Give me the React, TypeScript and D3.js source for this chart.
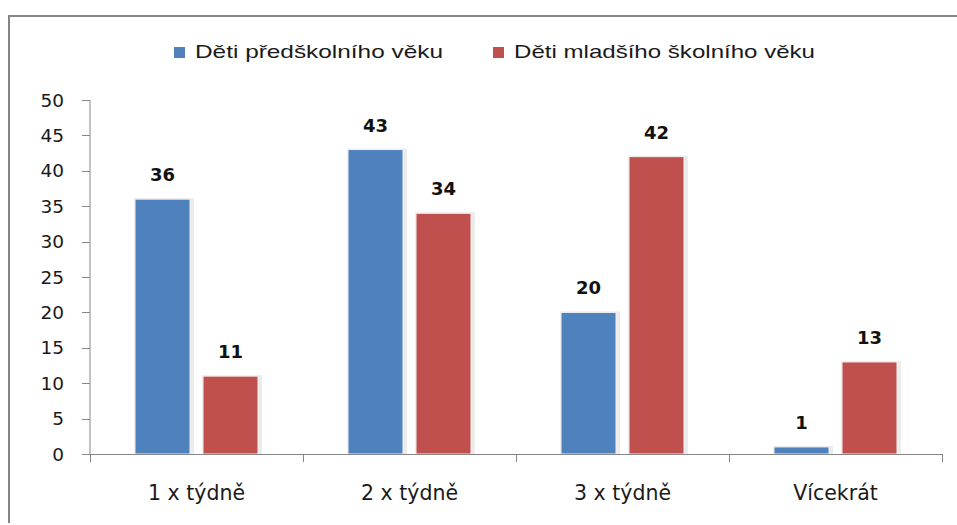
import React, { useEffect, useRef } from "react";
import * as d3 from "d3";

// data
const categories = ["1 x týdně", "2 x týdně", "3 x týdně", "Vícekrát"];
const seriesNames = ["Děti předškolního věku", "Děti mladšího školního věku"];
const preschool = [36, 43, 20, 1];
const school = [11, 34, 42, 13];
const yTicks = [0, 5, 10, 15, 20, 25, 30, 35, 40, 45, 50];

const colors = ["#4F81BD", "#C0504D"];
const legendWidths = [248, 301];

const App = () => {
  const svgRef = useRef<SVGSVGElement>(null);

  useEffect(() => {
    const svg = d3.select(svgRef.current);
    svg.selectAll("*").remove();

    const width = 957;
    const height = 525;
    const plot = { left: 90, right: 942, top: 100, bottom: 454 };

    // outer chart frame (top + left edges visible)
    svg
      .append("path")
      .attr("d", `M9,${height - 2} L9,16 L${width},16`)
      .attr("fill", "none")
      .attr("stroke", "#868686")
      .attr("stroke-width", 2);

    const x = d3
      .scaleBand<string>()
      .domain(categories)
      .range([plot.left, plot.right])
      .padding(0);

    const x1 = d3
      .scaleBand<number>()
      .domain([0, 1])
      .range([0, x.bandwidth()])
      .paddingInner(0.191)
      .paddingOuter(0.662);

    const y = d3.scaleLinear().domain([0, 50]).range([plot.bottom, plot.top]);

    // y axis
    const yAxis = svg.append("g");
    yAxis
      .append("line")
      .attr("x1", plot.left)
      .attr("x2", plot.left)
      .attr("y1", y(50))
      .attr("y2", y(0))
      .attr("stroke", "#868686");
    yAxis
      .selectAll(".ytick")
      .data(yTicks)
      .enter()
      .append("line")
      .attr("x1", plot.left - 8)
      .attr("x2", plot.left)
      .attr("y1", (d) => Math.round(y(d)) + 0.5)
      .attr("y2", (d) => Math.round(y(d)) + 0.5)
      .attr("stroke", "#868686");
    yAxis
      .selectAll(".ylabel")
      .data(yTicks)
      .enter()
      .append("text")
      .attr("x", 64)
      .attr("y", (d) => y(d))
      .attr("dy", "0.36em")
      .attr("text-anchor", "end")
      .attr("font-family", "DejaVu Sans, sans-serif")
      .attr("font-size", 18.5)
      .attr("fill", "#1a1a1a")
      .text((d) => d);

    // bars
    const groups = svg
      .selectAll(".grp")
      .data(categories)
      .enter()
      .append("g")
      .attr("transform", (d) => `translate(${x(d)},0)`);

    const barData = (i: number) =>
      [preschool[i], school[i]].map((v, s) => ({ v, s }));

    groups.each(function (_, i) {
      const g = d3.select(this);
      const bars = barData(i);
      // soft shadow
      g.selectAll(".shadow")
        .data(bars)
        .enter()
        .append("rect")
        .attr("x", (d) => (x1(d.s) as number) - 1)
        .attr("y", (d) => y(d.v) - 1)
        .attr("width", x1.bandwidth() + 5)
        .attr("height", (d) => y(0) - y(d.v) + 1)
        .attr("fill", "#000")
        .attr("opacity", 0.08);
      g.selectAll(".bar")
        .data(bars)
        .enter()
        .append("rect")
        .attr("x", (d) => x1(d.s) as number)
        .attr("y", (d) => y(d.v))
        .attr("width", x1.bandwidth())
        .attr("height", (d) => y(0) - y(d.v))
        .attr("fill", (d) => colors[d.s])
        .attr("stroke", "#f2f2f2")
        .attr("stroke-width", 1);
      g.selectAll(".val")
        .data(bars)
        .enter()
        .append("text")
        .attr("x", (d) => (x1(d.s) as number) + x1.bandwidth() / 2)
        .attr("y", (d) => y(d.v) - 18)
        .attr("text-anchor", "middle")
        .attr("font-family", "DejaVu Sans, sans-serif")
        .attr("font-weight", "bold")
        .attr("font-size", 18)
        .attr("fill", "#111")
        .text((d) => d.v);
    });

    // x axis
    const xAxis = svg.append("g");
    xAxis
      .append("line")
      .attr("x1", plot.left)
      .attr("x2", plot.right)
      .attr("y1", y(0) + 0.5)
      .attr("y2", y(0) + 0.5)
      .attr("stroke", "#868686");
    const bounds = categories.map((c) => x(c) as number).concat([plot.right]);
    xAxis
      .selectAll(".xtick")
      .data(bounds)
      .enter()
      .append("line")
      .attr("x1", (d) => Math.round(d) + 0.5)
      .attr("x2", (d) => Math.round(d) + 0.5)
      .attr("y1", y(0))
      .attr("y2", y(0) + 8)
      .attr("stroke", "#868686");
    xAxis
      .selectAll(".xlabel")
      .data(categories)
      .enter()
      .append("text")
      .attr("x", (d) => (x(d) as number) + x.bandwidth() / 2)
      .attr("y", 500)
      .attr("text-anchor", "middle")
      .attr("font-family", "DejaVu Sans, sans-serif")
      .attr("font-size", 20.5)
      .attr("fill", "#1a1a1a")
      .text((d) => d);

    // legend
    const legendX = [174, 493];
    const legend = svg
      .selectAll(".legend")
      .data(seriesNames)
      .enter()
      .append("g")
      .attr("transform", (_, i) => `translate(${legendX[i]},0)`);
    legend
      .append("rect")
      .attr("x", 0)
      .attr("y", 47)
      .attr("width", 11)
      .attr("height", 11)
      .attr("fill", (_, i) => colors[i]);
    legend
      .append("text")
      .attr("x", 21)
      .attr("y", 58)
      .attr("font-family", "Liberation Sans Narrow, Liberation Sans, sans-serif")
      .attr("font-size", 19)
      .attr("fill", "#1a1a1a")
      .attr("textLength", (_, i) => legendWidths[i])
      .attr("lengthAdjust", "spacingAndGlyphs")
      .text((d) => d);
  }, []);

  return (
    <svg
      ref={svgRef}
      width={957}
      height={525}
      style={{ position: "absolute", left: 0, top: 0, background: "#fff" }}
    ></svg>
  );
};

export default App;
